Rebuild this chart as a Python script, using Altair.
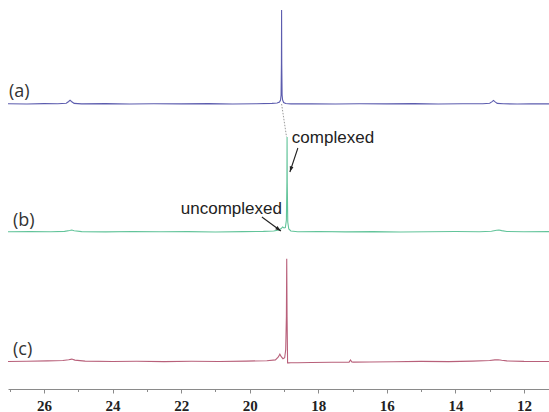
import altair as alt
import pandas as pd

# ---- spectrum (a) ----
xa = [27.05, 26.5, 26.0, 25.6, 25.35, 25.28, 25.24, 25.20, 25.12, 24.9, 24.2, 23.5, 22.8, 22.0, 21.2, 20.5,
      19.8, 19.35, 19.2, 19.13, 19.10, 19.085, 19.075, 19.07, 19.065, 19.055, 19.04, 19.01, 18.95, 18.8,
      18.2, 17.5, 16.8, 16.0, 15.2, 14.5, 13.8, 13.2, 13.0, 12.93, 12.89, 12.85, 12.78, 12.6, 12.2, 11.8, 11.27]
ya = [0.3, 0, 0.4, 0.2, 0.8, 2.5, 3.8, 2.5, 0.6, 0.1, 0.4, 0, 0.3, 0.1, 0.4, 0,
      0.3, 0.6, 1.0, 2.0, 4.0, 9, 40, 94, 40, 9, 4.0, 1.5, 0.5, 0.1,
      0.3, 0, 0.3, 0.1, 0.4, 0, 0.3, 0.2, 0.8, 2.4, 3.6, 2.4, 0.6, 0.2, 0, 0.3, 0.1]

# ---- spectrum (b) ----
xb = [27.05, 26.4, 25.8, 25.4, 25.25, 25.19, 25.12, 24.9, 24.2, 23.4, 22.6, 21.8, 21.0, 20.2, 19.6, 19.3,
      19.15, 19.08, 19.04, 19.0, 18.96, 18.93, 18.915, 18.91, 18.905, 18.89, 18.86, 18.8, 18.6, 18.0,
      17.2, 16.4, 15.6, 14.8, 14.0, 13.3, 12.95, 12.8, 12.73, 12.65, 12.5, 12.0, 11.27]
yb = [0.2, 0.5, 0.2, 0.6, 1.5, 2.0, 1.3, 0.4, 0.1, 0.5, 0.2, 0.4, 0, 0.4, 0.6, 1.0,
      2.0, 3.5, 5.0, 4.0, 4.5, 12, 50, 95, 50, 10, 3.0, 1.0, 0.3, 0.5,
      0.1, 0.4, 0, 0.3, 0.5, 0.2, 0.8, 1.8, 2.0, 1.4, 0.5, 0.2, 0.4]

# ---- spectrum (c) ----
xc = [27.05, 26.5, 25.9, 25.45, 25.28, 25.19, 25.1, 24.8, 24.0, 23.3, 22.5, 21.7, 20.9, 20.1, 19.5, 19.25,
      19.17, 19.12, 19.08, 19.03, 18.98, 18.95, 18.93, 18.92, 18.91, 18.895, 18.87, 18.8, 18.6, 18.2,
      17.6, 17.1, 17.06, 17.02, 16.98, 16.5, 15.8, 15.0, 14.2, 13.5, 13.0, 12.85, 12.75, 12.65, 12.5, 12.0, 11.27]
yc = [0.2, 0.5, 0.8, 1.2, 2.0, 2.6, 1.6, 0.6, 0.2, 0.4, 0.1, 0.4, 0.2, 0.6, 1.0, 1.8,
      4.5, 7.5, 5.0, 3.0, 4.0, 12, 45, 103, 45, -1.2, -1.2, -1.1, -1.0, -0.8,
      -0.6, -0.4, 1.8, -0.3, -0.4, -0.3, 0, 0.3, 0.1, 0.6, 1.2, 1.8, 2.0, 1.4, 0.8, 0.3, 0.2]

offsets = {"a": 285, "b": 157, "c": 27.3}
colors = {"a": "#5c5cae", "b": "#62c49a", "c": "#b8607a"}

panel_labels = ["(a)", "(b)", "(c)"]
panel_label_x = [27.02, 26.905, 26.905]
panel_label_v = [297, 168, 39]

ann_text = ["complexed", "uncomplexed"]
ann_x = [18.77, 19.06]
ann_v = [251, 180]
ann_align = ["left", "right"]

arrow_x1 = [18.595, 19.645]
arrow_v1 = [241, 172]
arrow_x2 = [18.828, 19.09]
arrow_v2 = [217, 158]
arrow_angle = [198, 126]

dot_x = [19.07, 18.925]
dot_v = [285, 252]

tick_values = list(range(12, 28))

xscale = alt.Scale(domain=[27.05, 11.27], nice=False, zero=False)
yscale = alt.Scale(domain=[0, 389], nice=False, zero=False)

xaxis = alt.Axis(
    values=tick_values,
    labelExpr="datum.value % 2 === 0 ? datum.label : ''",
    tickSize={"condition": {"test": "datum.value % 2 === 0", "value": 4}, "value": 2.5},
    tickColor="#8a8a8a",
    domainColor="#8a8a8a",
    domainWidth=1,
    grid=False,
    title=None,
    labelFont="Liberation Serif",
    labelFontWeight="bold",
    labelFontSize=15,
    labelColor="#222222",
    labelPadding=5,
    labelFlush=False,
    labelOverlap=False,
)


def X(field):
    return alt.X(field, scale=xscale, axis=xaxis)


def Y(field):
    return alt.Y(field, scale=yscale, axis=None)


layers = []
for key, xs, ys in [("a", xa, ya), ("b", xb, yb), ("c", xc, yc)]:
    df = pd.DataFrame({"x": xs, "y": ys})
    df["v"] = df["y"] + offsets[key]
    df["i"] = range(len(df))
    layers.append(
        alt.Chart(df).mark_line(color=colors[key], strokeWidth=1.1).encode(
            x=X("x:Q"), y=Y("v:Q"), order="i:O",
        )
    )

dot_df = pd.DataFrame({"x": dot_x, "v": dot_v})
layers.append(
    alt.Chart(dot_df).mark_line(color="#9a9a9a", strokeWidth=1, strokeDash=[1.5, 1.5]).encode(
        x=X("x:Q"), y=Y("v:Q")
    )
)

lab_df = pd.DataFrame({"x": panel_label_x, "v": panel_label_v, "t": panel_labels})
layers.append(
    alt.Chart(lab_df).mark_text(align="left", baseline="middle", font="Open Sans",
                                fontSize=18, color="#333333").encode(
        x=X("x:Q"), y=Y("v:Q"), text="t:N"
    )
)

for t, x, v, al in zip(ann_text, ann_x, ann_v, ann_align):
    d = pd.DataFrame({"x": [x], "v": [v], "t": [t]})
    layers.append(
        alt.Chart(d).mark_text(align=al, baseline="middle", font="Liberation Sans",
                               fontSize=17, color="#222222").encode(
            x=X("x:Q"), y=Y("v:Q"), text="t:N"
        )
    )

arr_df = pd.DataFrame({"x": arrow_x1, "v": arrow_v1, "x2": arrow_x2, "v2": arrow_v2, "ang": arrow_angle})
layers.append(
    alt.Chart(arr_df).mark_rule(color="#222222", strokeWidth=1.1).encode(
        x=X("x:Q"), y=Y("v:Q"), x2="x2:Q", y2="v2:Q"
    )
)
layers.append(
    alt.Chart(arr_df).mark_point(shape="M0,0 L-0.6,1.8 L0.6,1.8 Z", filled=True, color="#222222",
                                 size=40, opacity=1).encode(
        x=X("x2:Q"), y=Y("v2:Q"),
        angle=alt.Angle("ang:Q", scale=None),
    )
)

chart = alt.layer(*layers).properties(
    width=541, height=389,
    autosize="none",
    padding={"left": 8, "top": 0, "right": 0, "bottom": 23},
    background="white",
).configure_view(stroke=None)

chart.save("out.html", embed_options={"renderer": "svg", "actions": False})
